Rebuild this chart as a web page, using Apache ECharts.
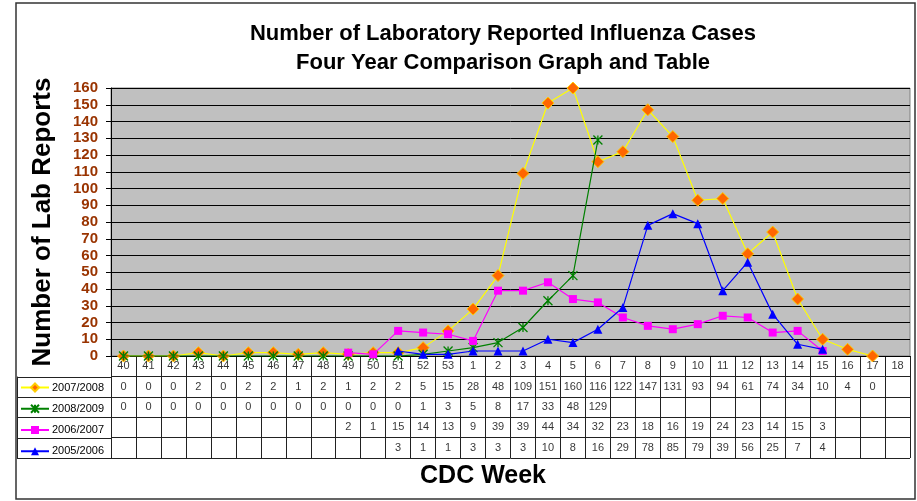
<!DOCTYPE html>
<html><head><meta charset="utf-8">
<script src="https://cdn.jsdelivr.net/npm/echarts@6/dist/echarts.min.js"></script>
<style>html,body{margin:0;padding:0;background:#fff}#c{width:917px;height:501px}</style>
</head><body><div id="c"></div>
<script>
var weeks = ['40','41','42','43','44','45','46','47','48','49','50','51','52','53','1','2','3','4','5','6','7','8','9','10','11','12','13','14','15','16','17','18'];
var s0708 = [0,0,0,2,0,2,2,1,2,1,2,2,5,15,28,48,109,151,160,116,122,147,131,93,94,61,74,34,10,4,0,null];
var s0809 = [0,0,0,0,0,0,0,0,0,0,0,0,1,3,5,8,17,33,48,129,null,null,null,null,null,null,null,null,null,null,null,null];
var s0607 = [null,null,null,null,null,null,null,null,null,2,1,15,14,13,9,39,39,44,34,32,23,18,16,19,24,23,14,15,3,null,null,null];
var s0506 = [null,null,null,null,null,null,null,null,null,null,null,3,1,1,3,3,3,10,8,16,29,78,85,79,39,56,25,7,4,null,null,null];
var names = ['2007/2008','2008/2009','2006/2007','2005/2006'];
var yTicks = {min:0, max:160, interval:10};

var FONT = "'Liberation Sans', Arial, sans-serif";
var chart = echarts.init(document.getElementById('c'), null, {renderer:'canvas'});

var tableRows = [weeks, s0708, s0809, s0607, s0506];
var cells = [];
tableRows.forEach(function(row, r){
  row.forEach(function(v, i){
    if (v !== null && v !== undefined) cells.push([i, r, String(v)]);
  });
});

var option = {
  backgroundColor: '#ffffff',
  textStyle: {fontFamily: FONT},
  title: [
    {text: 'Number of Laboratory Reported Influenza Cases\nFour Year Comparison Graph and Table',
     left: 498, top: 14, textAlign: 'center',
     textStyle: {fontFamily: FONT, fontSize: 22, fontWeight: 'bold', color: '#000', lineHeight: 29}},
    {text: 'CDC Week', left: 478, top: 459, textAlign: 'center',
     textStyle: {fontFamily: FONT, fontSize: 25, fontWeight: 'bold', color: '#000'}}
  ],
  legend: {
    data: names, orient: 'vertical', left: 20, top: 382, padding: 0,
    itemWidth: 28, itemHeight: 10, itemGap: 10.25,
    textStyle: {fontFamily: FONT, fontSize: 11, color: '#000', padding: [0,0,0,-2]}
  },
  graphic: [{type:'rect', shape:{x:16, y:3, width:899, height:496}, style:{fill:'none', stroke:'#333', lineWidth:1.5}, z: 100}],
  grid: [
    {left: 111, right: 7, top: 88, height: 268, show: true, backgroundColor: '#C0C0C0', borderColor: '#808080', borderWidth: 1},
    {left: 111, right: 7, top: 356, height: 102},
    {left: 17, width: 94, top: 377, height: 81}
  ],
  xAxis: [
    {gridIndex: 0, type: 'category', data: weeks, boundaryGap: true,
     axisLine: {show: true, lineStyle: {color: '#000', width: 1}}, axisTick: {show: false}, axisLabel: {show: false}},
    {gridIndex: 1, type: 'category', data: weeks, boundaryGap: true,
     axisLine: {show: false}, axisTick: {show: false}, axisLabel: {show: false},
     splitLine: {show: true, interval: 0, lineStyle: {color: '#222', width: 1}}},
    {gridIndex: 2, type: 'value', show: false}
  ],
  yAxis: [
    {gridIndex: 0, type: 'value', min: yTicks.min, max: yTicks.max, interval: yTicks.interval,
     axisLine: {show: true, lineStyle: {color: '#000', width: 1}},
     axisTick: {show: true, length: 5, lineStyle: {color: '#000'}},
     axisLabel: {fontFamily: FONT, fontSize: 15, fontWeight: 'bold', color: '#993300', margin: 13},
     splitLine: {show: true, lineStyle: {color: '#000', width: 1}},
     name: 'Number of Lab Reports', nameLocation: 'middle', nameGap: 55, nameRotate: 90,
     nameTextStyle: {fontFamily: FONT, fontSize: 26, fontWeight: 'bold', color: '#000'}},
    {gridIndex: 1, type: 'category', data: ['h','a','b','c','d'], inverse: true, boundaryGap: true,
     axisLine: {show: false}, axisTick: {show: false}, axisLabel: {show: false},
     splitLine: {show: true, interval: 0, lineStyle: {color: '#222', width: 1}}},
    {gridIndex: 2, type: 'category', data: names, inverse: true, boundaryGap: true,
     axisLine: {show: true, lineStyle: {color: '#222'}}, axisTick: {show: false}, axisLabel: {show: false},
     splitLine: {show: true, interval: 0, lineStyle: {color: '#222', width: 1}}}
  ],
  series: [
    {name: names[0], type: 'line', data: s0708, xAxisIndex: 0, yAxisIndex: 0,
     symbol: 'diamond', symbolSize: 12, lineStyle: {color: '#FFFF00', width: 1.2},
     itemStyle: {color: '#FF6600', borderColor: '#FFCC00', borderWidth: 1}, z: 2},
    {name: names[1], type: 'line', data: s0809, xAxisIndex: 0, yAxisIndex: 0,
     symbol: 'path://M0,0L10,10M10,0L0,10M5,0L5,10', symbolSize: 9, lineStyle: {color: '#008000', width: 1.2},
     itemStyle: {color: '#008000', borderColor: '#008000', borderWidth: 1.3}, z: 3},
    {name: names[2], type: 'line', data: s0607, xAxisIndex: 0, yAxisIndex: 0,
     symbol: 'rect', symbolSize: 8, lineStyle: {color: '#FF00FF', width: 1.2},
     itemStyle: {color: '#FF00FF'}, z: 4},
    {name: names[3], type: 'line', data: s0506, xAxisIndex: 0, yAxisIndex: 0,
     symbol: 'triangle', symbolSize: 9, lineStyle: {color: '#0000FF', width: 1.2},
     itemStyle: {color: '#0000FF'}, z: 5},
    {name: 'table', type: 'scatter', xAxisIndex: 1, yAxisIndex: 1, data: cells,
     symbolSize: 1, itemStyle: {color: 'rgba(0,0,0,0)'}, silent: true,
     label: {show: true, position: 'inside', color: '#000', fontFamily: FONT, fontSize: 11,
       formatter: function(p){ return p.value[2]; }}}
  ],
  animation: false
};
chart.setOption(option);
</script></body></html>
